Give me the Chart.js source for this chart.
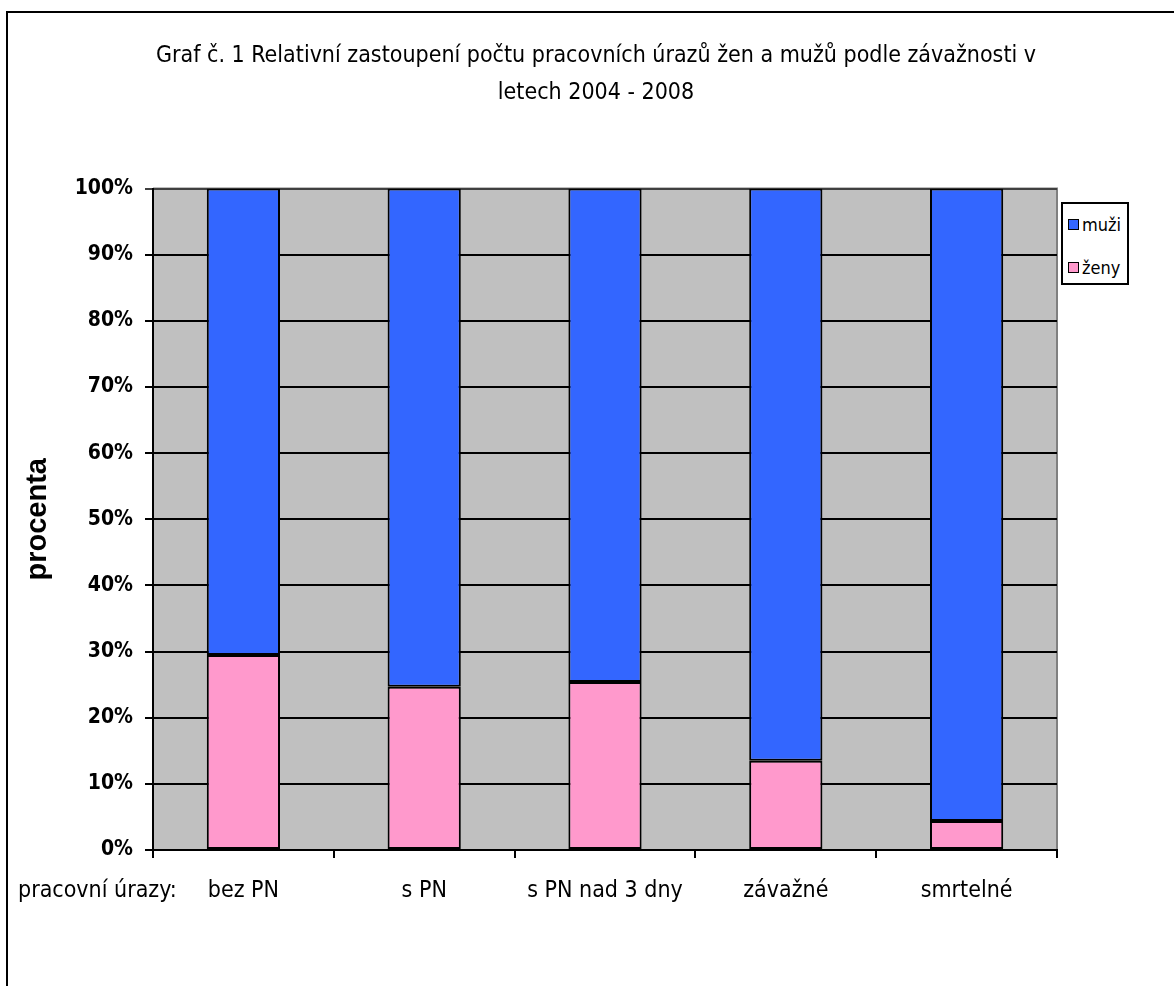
<!DOCTYPE html>
<html lang="cs">
<head>
<meta charset="UTF-8">
<title>Graf č. 1</title>
<style>
  body { margin: 0; background: #fff; }
  #wrap { position: relative; width: 1174px; height: 986px; overflow: hidden; }
  #frame { position: absolute; left: 6px; top: 11px; right: -4px; bottom: -4px;
           border-left: 2px solid #000; border-top: 2px solid #000; pointer-events: none; }
  #legend { position: absolute; left: 1061px; top: 202px; width: 64px; height: 79px;
            border: 2px solid #000; background: #fff;
            font-family: 'Liberation Sans Narrow', 'Arial Narrow', 'DejaVu Sans Condensed', sans-serif;
            font-size: 18px; color: #000; }
  #legend div { position: absolute; left: 5px; height: 20px; line-height: 20px; }
  #legend span.sw { display: inline-block; width: 9px; height: 9px; border: 1.5px solid #000;
                    margin-right: 3px; vertical-align: 1px; }
</style>
</head>
<body>
<div id="wrap">
  <canvas id="graf" width="1174" height="986"></canvas>
  <div id="legend"></div>
  <div id="frame"></div>
</div>
<script src="https://cdn.jsdelivr.net/npm/chart.js@4.4.1/dist/chart.umd.min.js"></script>
<script>
// data
const kategorie = ['bez PN', 's PN', 's PN nad 3 dny', 'závažné', 'smrtelné']
const zeny = [29.5, 24.7, 25.4, 13.5, 4.4]
const muzi = [70.5, 75.3, 74.6, 86.5, 95.6]
const nadpis = ['Graf č. 1 Relativní zastoupení počtu pracovních úrazů žen a mužů podle závažnosti v', 'letech 2004 - 2008']
const osaY = 'procenta'
const osaX = 'pracovní úrazy:'

const narrow = "'Liberation Sans Narrow', 'Arial Narrow', 'DejaVu Sans Condensed', sans-serif"

// gray plot area
const pozadi = {
    id: 'pozadi',
    beforeDraw(chart) {
        const { ctx, chartArea: a } = chart
        ctx.save()
        ctx.fillStyle = '#c0c0c0'
        ctx.fillRect(a.left, a.top, a.right - a.left, a.bottom - a.top)
        ctx.strokeStyle = '#808080'
        ctx.lineWidth = 2
        ctx.beginPath()
        ctx.moveTo(a.left, a.top)
        ctx.lineTo(a.right, a.top)
        ctx.lineTo(a.right, a.bottom)
        ctx.stroke()
        ctx.restore()
    }
}

// "pracovní úrazy:" in front of the category labels
const popisX = {
    id: 'popisX',
    afterDraw(chart) {
        const items = chart.scales.x.getLabelItems()
        if (!items.length) return
        const it = items[0]
        const { ctx } = chart
        ctx.save()
        ctx.font = it.font.string
        ctx.fillStyle = '#000'
        ctx.textAlign = 'left'
        ctx.textBaseline = it.options.textBaseline
        ctx.fillText(osaX, 18, it.options.translation[1] + it.textOffset)
        ctx.restore()
    }
}

const ctx = document.querySelector('#graf').getContext('2d')
const chart = new Chart(ctx, {
    type: 'bar',
    data: {
        labels: kategorie,
        datasets: [{
            label: 'ženy',
            data: zeny,
            backgroundColor: '#ff99cc',
            borderColor: '#000',
            borderWidth: 2,
            borderSkipped: false
        }, {
            label: 'muži',
            data: muzi,
            backgroundColor: '#3366ff',
            borderColor: '#000',
            borderWidth: 2,
            borderSkipped: false
        }]
    },
    options: {
        responsive: false,
        animation: false,
        layout: { padding: { left: 18, right: 0, top: 0, bottom: 76 } },
        datasets: { bar: { barPercentage: 0.405, categoryPercentage: 1 } },
        plugins: {
            legend: { display: false },
            tooltip: { enabled: false },
            title: {
                display: true,
                text: nadpis,
                color: '#000',
                font: { family: narrow, size: 23, weight: 'normal', lineHeight: 1.6 },
                padding: { top: 38, bottom: 77 }
            }
        },
        scales: {
            x: {
                stacked: true,
                afterFit(scale) { scale.height = 60 },
                grid: { offset: true, drawOnChartArea: false, drawTicks: true, tickLength: 8, color: '#000', lineWidth: 2 },
                border: { display: true, color: '#000', width: 2 },
                ticks: { color: '#000', padding: 19, maxRotation: 0, minRotation: 0, autoSkip: false,
                         font: { family: narrow, size: 23 } }
            },
            y: {
                stacked: true,
                min: 0,
                max: 100,
                afterFit(scale) { scale.width = 135 },
                grid: {
                    color: c => c.tick && c.tick.value === 100 ? '#404040' : '#000',
                    lineWidth: 2,
                    tickLength: 8
                },
                border: { display: true, color: '#000', width: 2 },
                ticks: {
                    stepSize: 10,
                    color: '#000',
                    padding: 12,
                    font: { family: narrow, size: 21, weight: 'bold' },
                    callback: v => v + '%'
                },
                title: {
                    display: true,
                    text: osaY,
                    color: '#000',
                    font: { family: "'Liberation Sans', Arial, sans-serif", size: 29, weight: 'bold' },
                    padding: { top: 3, bottom: 0 }
                }
            },
            // empty room on the right for the legend
            misto: {
                position: 'right',
                afterFit(scale) { scale.width = 117 },
                grid: { display: false },
                border: { display: false },
                ticks: { display: false }
            }
        }
    },
    plugins: [pozadi, popisX]
})

// legend like in Excel: muži on top, then ženy
const leg = document.querySelector('#legend')
chart.data.datasets.slice().reverse().forEach((ds, i) => {
    const row = document.createElement('div')
    row.style.top = (11 + i * 43) + 'px'
    row.innerHTML = '<span class="sw" style="background:' + ds.backgroundColor + '"></span>' + ds.label
    leg.appendChild(row)
})
</script>
</body>
</html>
